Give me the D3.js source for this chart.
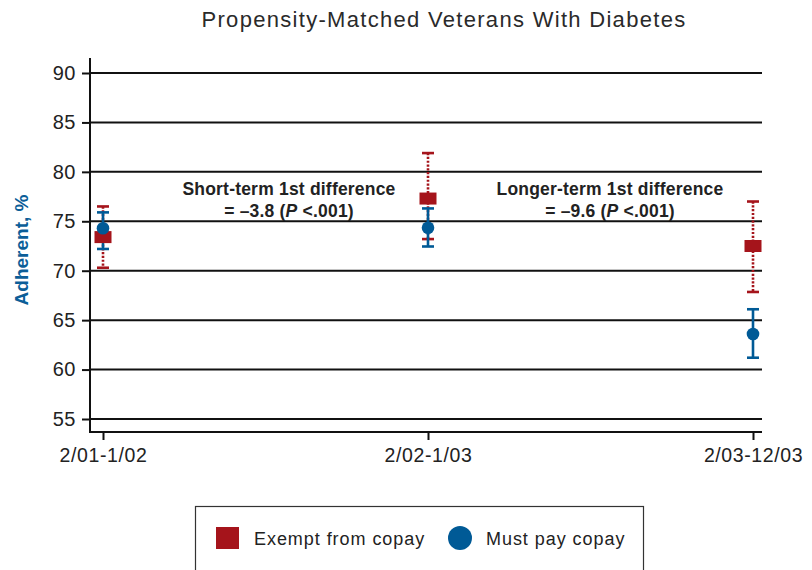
<!DOCTYPE html>
<html><head><meta charset="utf-8">
<script src="https://cdn.jsdelivr.net/npm/d3@7"></script>
<style>body{margin:0;background:#fff}svg{display:block}</style>
</head><body>
<script>
const categories = ["2/01-1/02", "2/02-1/03", "2/03-12/03"];
const exemptValues = [73.4, 77.3, 72.5];
const exemptLow = [70.3, 73.2, 67.85];
const exemptHigh = [76.5, 81.9, 77.0];
const payValues = [74.3, 74.35, 63.6];
const payLow = [72.2, 72.45, 61.2];
const payHigh = [75.9, 76.3, 66.1];
const yTicks = [55, 60, 65, 70, 75, 80, 85, 90];
const seriesNames = ["Exempt from copay", "Must pay copay"];

const W = 812, H = 570;
const FONT = "Liberation Sans, Arial, sans-serif";
const red = "#a5141b", blue = "#005a96";
const svg = d3.select("body").append("svg").attr("width", W).attr("height", H);

const x = d3.scalePoint().domain(categories).range([103, 753]);
const y = d3.scaleLinear().domain([55, 90]).range([419, 73]);

// title
svg.append("text").attr("x", 444).attr("y", 27).attr("text-anchor", "middle")
  .attr("font-family", FONT).attr("font-size", 22).attr("letter-spacing", 1.3).attr("fill", "#2a2a2a")
  .text("Propensity-Matched Veterans With Diabetes");

// gridlines
svg.append("g").selectAll("line").data(yTicks).join("line")
  .attr("x1", 90).attr("x2", 762).attr("y1", d => y(d)).attr("y2", d => y(d))
  .attr("stroke", "#111").attr("stroke-width", 2);

// y axis
const yAxis = svg.append("g").attr("transform", "translate(90,0)")
  .call(d3.axisLeft(y).tickValues(yTicks).tickSize(8).tickPadding(6));
yAxis.select(".domain").remove();
yAxis.selectAll(".tick line").attr("stroke", "#111").attr("stroke-width", 2);
yAxis.selectAll("text").attr("font-family", FONT).attr("font-size", 20).attr("letter-spacing", 0.5).attr("fill", "#222");
svg.append("line").attr("x1", 90).attr("x2", 90).attr("y1", 58).attr("y2", 433).attr("stroke", "#111").attr("stroke-width", 2);

// x axis
const xAxis = svg.append("g").attr("transform", "translate(0,432)")
  .call(d3.axisBottom(x).tickSize(8).tickPadding(8));
xAxis.select(".domain").remove();
xAxis.selectAll(".tick line").attr("stroke", "#111").attr("stroke-width", 2);
xAxis.selectAll("text").attr("font-family", FONT).attr("font-size", 19.5).attr("letter-spacing", 0.6).attr("fill", "#222");
svg.append("line").attr("x1", 89).attr("x2", 762).attr("y1", 432).attr("y2", 432).attr("stroke", "#111").attr("stroke-width", 2);

// y label
svg.append("text").attr("transform", "translate(28,250) rotate(-90)").attr("text-anchor", "middle")
  .attr("font-family", FONT).attr("font-size", 19).attr("font-weight", "bold")
  .attr("fill", "#0b5e98").text("Adherent, %");

// annotations
const ann = [
  {cx: 289, l1: "Short-term 1st difference", v: "= \u20133.8 ("},
  {cx: 610, l1: "Longer-term 1st difference", v: "= \u20139.6 ("}
];
ann.forEach(a => {
  const t = svg.append("text").attr("text-anchor", "middle")
    .attr("font-family", FONT).attr("font-size", 17.5).attr("font-weight", "bold").attr("letter-spacing", 0.2).attr("fill", "#222");
  t.append("tspan").attr("x", a.cx).attr("y", 195).text(a.l1);
  const t2 = t.append("tspan").attr("x", a.cx).attr("y", 217);
  t2.append("tspan").text(a.v);
  t2.append("tspan").attr("font-style", "italic").text("P");
  t2.append("tspan").text(" <.001)");
});

const idx = d3.range(categories.length);
// exempt error bars (dotted)
const gE = svg.append("g");
gE.selectAll("line.v").data(idx).join("line")
  .attr("x1", i => x(categories[i])).attr("x2", i => x(categories[i]))
  .attr("y1", i => y(exemptHigh[i])).attr("y2", i => y(exemptLow[i]))
  .attr("stroke", red).attr("stroke-width", 2.6).attr("stroke-dasharray", "2.2,1.6");
[exemptHigh, exemptLow].forEach(arr => {
  gE.append("g").selectAll("line").data(idx).join("line")
    .attr("x1", i => x(categories[i]) - 6).attr("x2", i => x(categories[i]) + 6)
    .attr("y1", i => y(arr[i])).attr("y2", i => y(arr[i]))
    .attr("stroke", red).attr("stroke-width", 2.6);
});
// pay error bars
const gP = svg.append("g");
gP.selectAll("line.v").data(idx).join("line")
  .attr("x1", i => x(categories[i])).attr("x2", i => x(categories[i]))
  .attr("y1", i => y(payHigh[i])).attr("y2", i => y(payLow[i]))
  .attr("stroke", blue).attr("stroke-width", 2.6);
[payHigh, payLow].forEach(arr => {
  gP.append("g").selectAll("line").data(idx).join("line")
    .attr("x1", i => x(categories[i]) - 6).attr("x2", i => x(categories[i]) + 6)
    .attr("y1", i => y(arr[i])).attr("y2", i => y(arr[i]))
    .attr("stroke", blue).attr("stroke-width", 2.6);
});
// markers
svg.append("g").selectAll("rect").data(idx).join("rect")
  .attr("x", i => x(categories[i]) - 8.5).attr("y", i => y(exemptValues[i]) - 6)
  .attr("width", 17).attr("height", 12).attr("fill", red);
svg.append("g").selectAll("circle").data(idx).join("circle")
  .attr("cx", i => x(categories[i])).attr("cy", i => y(payValues[i])).attr("r", 6.3).attr("fill", blue);

// legend
const lg = svg.append("g");
lg.append("rect").attr("x", 195.5).attr("y", 506.5).attr("width", 448).attr("height", 70)
  .attr("fill", "none").attr("stroke", "#333").attr("stroke-width", 1.2);
lg.append("rect").attr("x", 216).attr("y", 527).attr("width", 23).attr("height", 22).attr("fill", red);
lg.append("circle").attr("cx", 460).attr("cy", 538).attr("r", 12).attr("fill", blue);
lg.selectAll("text.lt").data(seriesNames).join("text")
  .attr("x", (d, i) => i === 0 ? 254 : 486).attr("y", 545)
  .attr("font-family", FONT).attr("font-size", 18).attr("letter-spacing", 0.95).attr("fill", "#222")
  .text(d => d);
</script>
</body></html>
